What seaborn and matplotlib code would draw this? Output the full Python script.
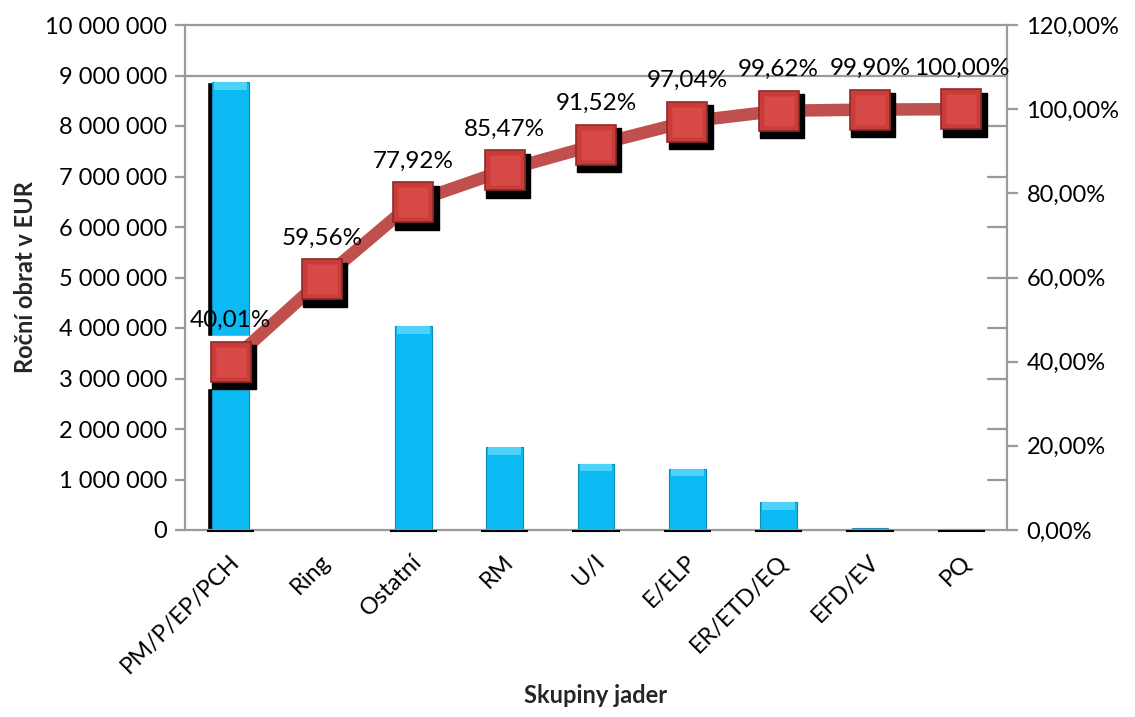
import numpy as np
import pandas as pd
import matplotlib
matplotlib.use("Agg")
import matplotlib.pyplot as plt
import matplotlib.transforms as mtransforms
from matplotlib.ticker import FuncFormatter, MultipleLocator
import seaborn as sns

# Pareto data: annual turnover per core group and cumulative share
categories = ["PM/P/EP/PCH", "Ring", "Ostatní", "RM", "U/I", "E/ELP",
              "ER/ETD/EQ", "EFD/EV", "PQ"]
turnover = [8870000, 0, 4040000, 1640000, 1310000, 1210000, 555000, 40000, 12000]
cumulative_pct = [40.01, 59.56, 77.92, 85.47, 91.52, 97.04, 99.62, 99.90, 100.00]

df = pd.DataFrame({"group": categories, "turnover": turnover, "cum": cumulative_pct})

sns.set_theme(style="white")
plt.rcParams["font.family"] = ["Lato", "DejaVu Sans"]

W, H = 1135, 717
fig = plt.figure(figsize=(W / 100, H / 100), dpi=100)
ax = fig.add_axes([185 / W, 1 - 530 / H, (1007 - 185) / W, (530 - 25) / H])

GRAY = "#9a9a9a"
BAR = "#0BBAF2"
LINE = "#C0504D"
MARK = "#C93C3A"
FS = 17

x = np.arange(len(categories))

# drop shadow behind the first bar
ax.bar(x[0] - 0.06, df.turnover[0], width=0.4, color="black", zorder=1)
sns.barplot(data=df, x="group", y="turnover", color=BAR, saturation=1,
            width=0.4, ax=ax, zorder=2, edgecolor="#0A8BBF", linewidth=0.8)
for xi, v in zip(x, turnover):
    if v > 0:
        # thin dark base under each bar
        ax.plot([xi - 0.26, xi + 0.26], [-15000, -15000], color="black", lw=1.5,
                zorder=3, solid_capstyle="butt", clip_on=False)
        # light bevel along the top of each bar
        if v > 200000:
            ax.bar(xi, 150000, bottom=v - 150000, width=0.36, color="#4FD2FA",
                   zorder=3, linewidth=0)

ax.set_xlim(-0.5, len(categories) - 0.5)
ax.set_ylim(0, 10_000_000)
ax.yaxis.set_major_locator(MultipleLocator(1_000_000))
ax.yaxis.set_major_formatter(FuncFormatter(lambda v, p: f"{int(v):,}".replace(",", " ")))
ax.axhline(9_000_000, color=GRAY, lw=1.6, zorder=0)

# short inner marks along the right edge at each primary tick
yt = mtransforms.blended_transform_factory(ax.transAxes, ax.transData)
for v in np.arange(1_000_000, 9_000_000, 1_000_000):
    ax.plot([0.977, 1.0], [v, v], color=GRAY, lw=1.6, transform=yt, zorder=0)

for s in ["left", "bottom", "top", "right"]:
    ax.spines[s].set_color(GRAY)
    ax.spines[s].set_linewidth(1.6)
ax.tick_params(axis="y", which="major", direction="out", length=7, width=1.6,
               color=GRAY, left=True, labelsize=FS, pad=6, labelcolor="black")
ax.tick_params(axis="x", length=0, labelsize=FS, pad=8, labelcolor="black")
shift = mtransforms.ScaledTranslation(-2 / 100, -10 / 100, fig.dpi_scale_trans)
for lbl in ax.get_xticklabels():
    lbl.set_rotation(45)
    lbl.set_ha("right")
    lbl.set_va("top")
    lbl.set_rotation_mode("anchor")
    lbl.set_transform(lbl.get_transform() + shift)
ax.set_xlabel("Skupiny jader", fontsize=FS, fontweight="bold")
ax.xaxis.set_label_coords(0.5, -0.305)
ax.set_ylabel("Roční obrat v EUR", fontsize=FS, fontweight="bold", labelpad=6)

# secondary axis: cumulative percentage line
ax2 = ax.twinx()
ax2.set_ylim(0, 120)
ax2.yaxis.set_major_locator(MultipleLocator(20))
ax2.yaxis.set_major_formatter(FuncFormatter(lambda v, p: f"{v:.2f}%".replace(".", ",")))
ax2.tick_params(axis="y", direction="out", length=8, width=1.6, color=GRAY,
                labelsize=FS, pad=6, labelcolor="black")
for s in ax2.spines.values():
    s.set_visible(False)
ax2.grid(False)

# white halo keeps the first marker clear of the bar beneath it
ax2.plot(x, df.cum, ls="none", marker="s", ms=38, color="white", zorder=1)
sns.lineplot(x=x, y=df.cum, color=LINE, lw=9, ax=ax2, zorder=2)
ax2.set_ylabel("")
shadow = mtransforms.offset_copy(ax2.transData, fig=fig, x=2.5, y=-4, units="points")
ax2.plot(x, df.cum, ls="none", marker="s", ms=32, color="black",
         transform=shadow, zorder=3)
ax2.plot(x, df.cum, ls="none", marker="s", ms=29, mfc=MARK, mec="#8E2A28",
         mew=1.2, zorder=4)
ax2.plot(x, df.cum, ls="none", marker="s", ms=21, mfc="#D84A47", mec="none", zorder=5)

for xi, v in zip(x, df.cum):
    ax2.annotate(f"{v:.2f}%".replace(".", ","), (xi, v), xytext=(0, 25),
                 textcoords="offset points", ha="center", va="baseline",
                 fontsize=17.5, color="black", zorder=6)

fig.savefig("out.png", dpi=100, facecolor="white")
